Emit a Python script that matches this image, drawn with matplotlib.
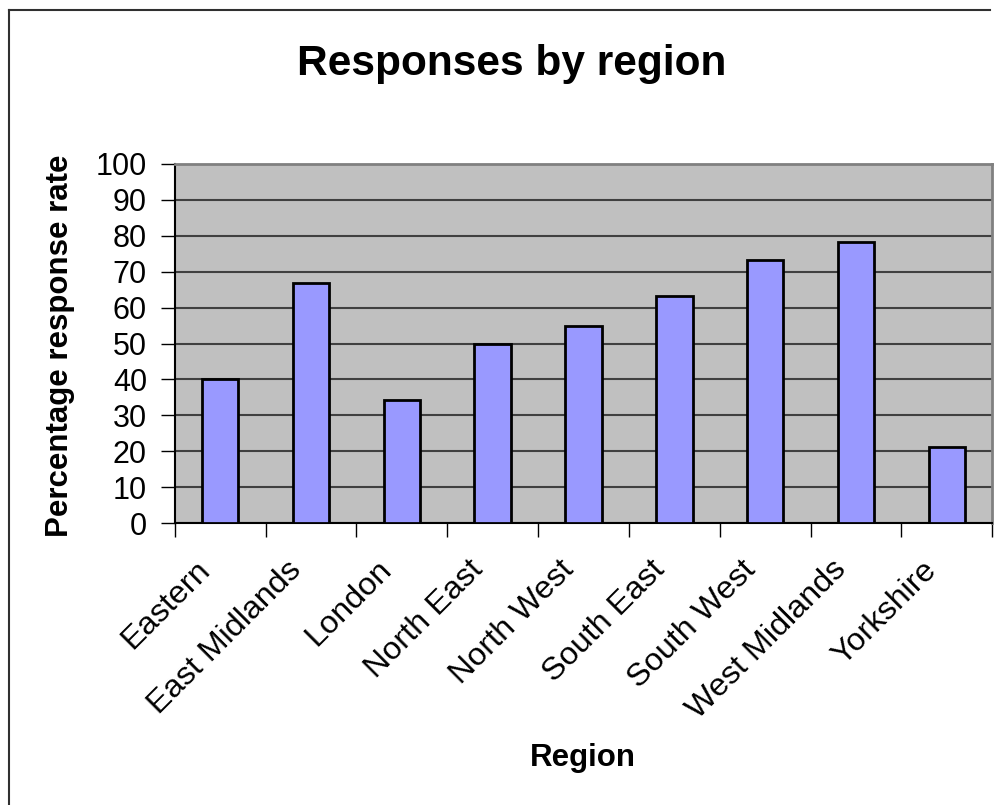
import matplotlib.pyplot as plt
from matplotlib.lines import Line2D
from matplotlib.transforms import ScaledTranslation

plt.rcParams['font.family'] = ['Liberation Sans', 'DejaVu Sans']

regions = ['Eastern', 'East Midlands', 'London', 'North East', 'North West',
           'South East', 'South West', 'West Midlands', 'Yorkshire']
response_rate = [40, 66.7, 34.4, 50, 55, 63.2, 73.2, 78.2, 21.1]

fig = plt.figure(figsize=(10, 8.05), dpi=100)
ax = fig.add_axes([0.1747, 0.3499, 0.8176, 0.4467])
ax.set_facecolor('#c0c0c0')

x = list(range(len(regions)))
ax.bar(x, response_rate, width=0.4, color='#9999ff', edgecolor='black',
       linewidth=2, zorder=3)

ax.set_xlim(-0.5, len(regions) - 0.5)
ax.set_ylim(0, 100)
ax.set_yticks(range(0, 101, 10))
ax.yaxis.grid(True, color='#404040', linewidth=1.5, zorder=1)
ax.tick_params(axis='y', labelsize=22, length=10, width=1, direction='out', pad=10)

# category boundary ticks on the x axis, labels sit at the centres
ax.set_xticks([i - 0.5 for i in range(len(regions) + 1)])
ax.set_xticklabels([])
ax.tick_params(axis='x', which='major', length=10, width=1, direction='out')
ax.set_xticks(x, minor=True)
ax.set_xticklabels(regions, minor=True, rotation=45, ha='right',
                   rotation_mode='anchor', fontsize=23.3)
ax.tick_params(axis='x', which='minor', length=0, pad=14)
shift = ScaledTranslation(-0.25, -0.12, fig.dpi_scale_trans)
for lbl in ax.get_xticklabels(minor=True):
    lbl.set_transform(lbl.get_transform() + shift)

for side in ['left', 'bottom']:
    ax.spines[side].set_color('black')
    ax.spines[side].set_linewidth(1.5)
for side in ['top', 'right']:
    ax.spines[side].set_color('#808080')
    ax.spines[side].set_linewidth(2)

fig.text(0.512, 0.920, 'Responses by region', ha='center', va='center',
         fontsize=30.5, fontweight='bold')
fig.text(0.060, 0.571, 'Percentage response rate', ha='center', va='center',
         rotation=90, fontsize=22.5, fontweight='bold')
fig.text(0.583, 0.059, 'Region', ha='center', va='center',
         fontsize=22.5, fontweight='bold')

# outer chart frame
fig.add_artist(Line2D([0.009, 0.990], [0.9876, 0.9876], color='#303030', linewidth=1.5))
fig.add_artist(Line2D([0.009, 0.009], [0.0, 0.9876], color='#303030', linewidth=1.5))

fig.savefig('out.png', dpi=100)
